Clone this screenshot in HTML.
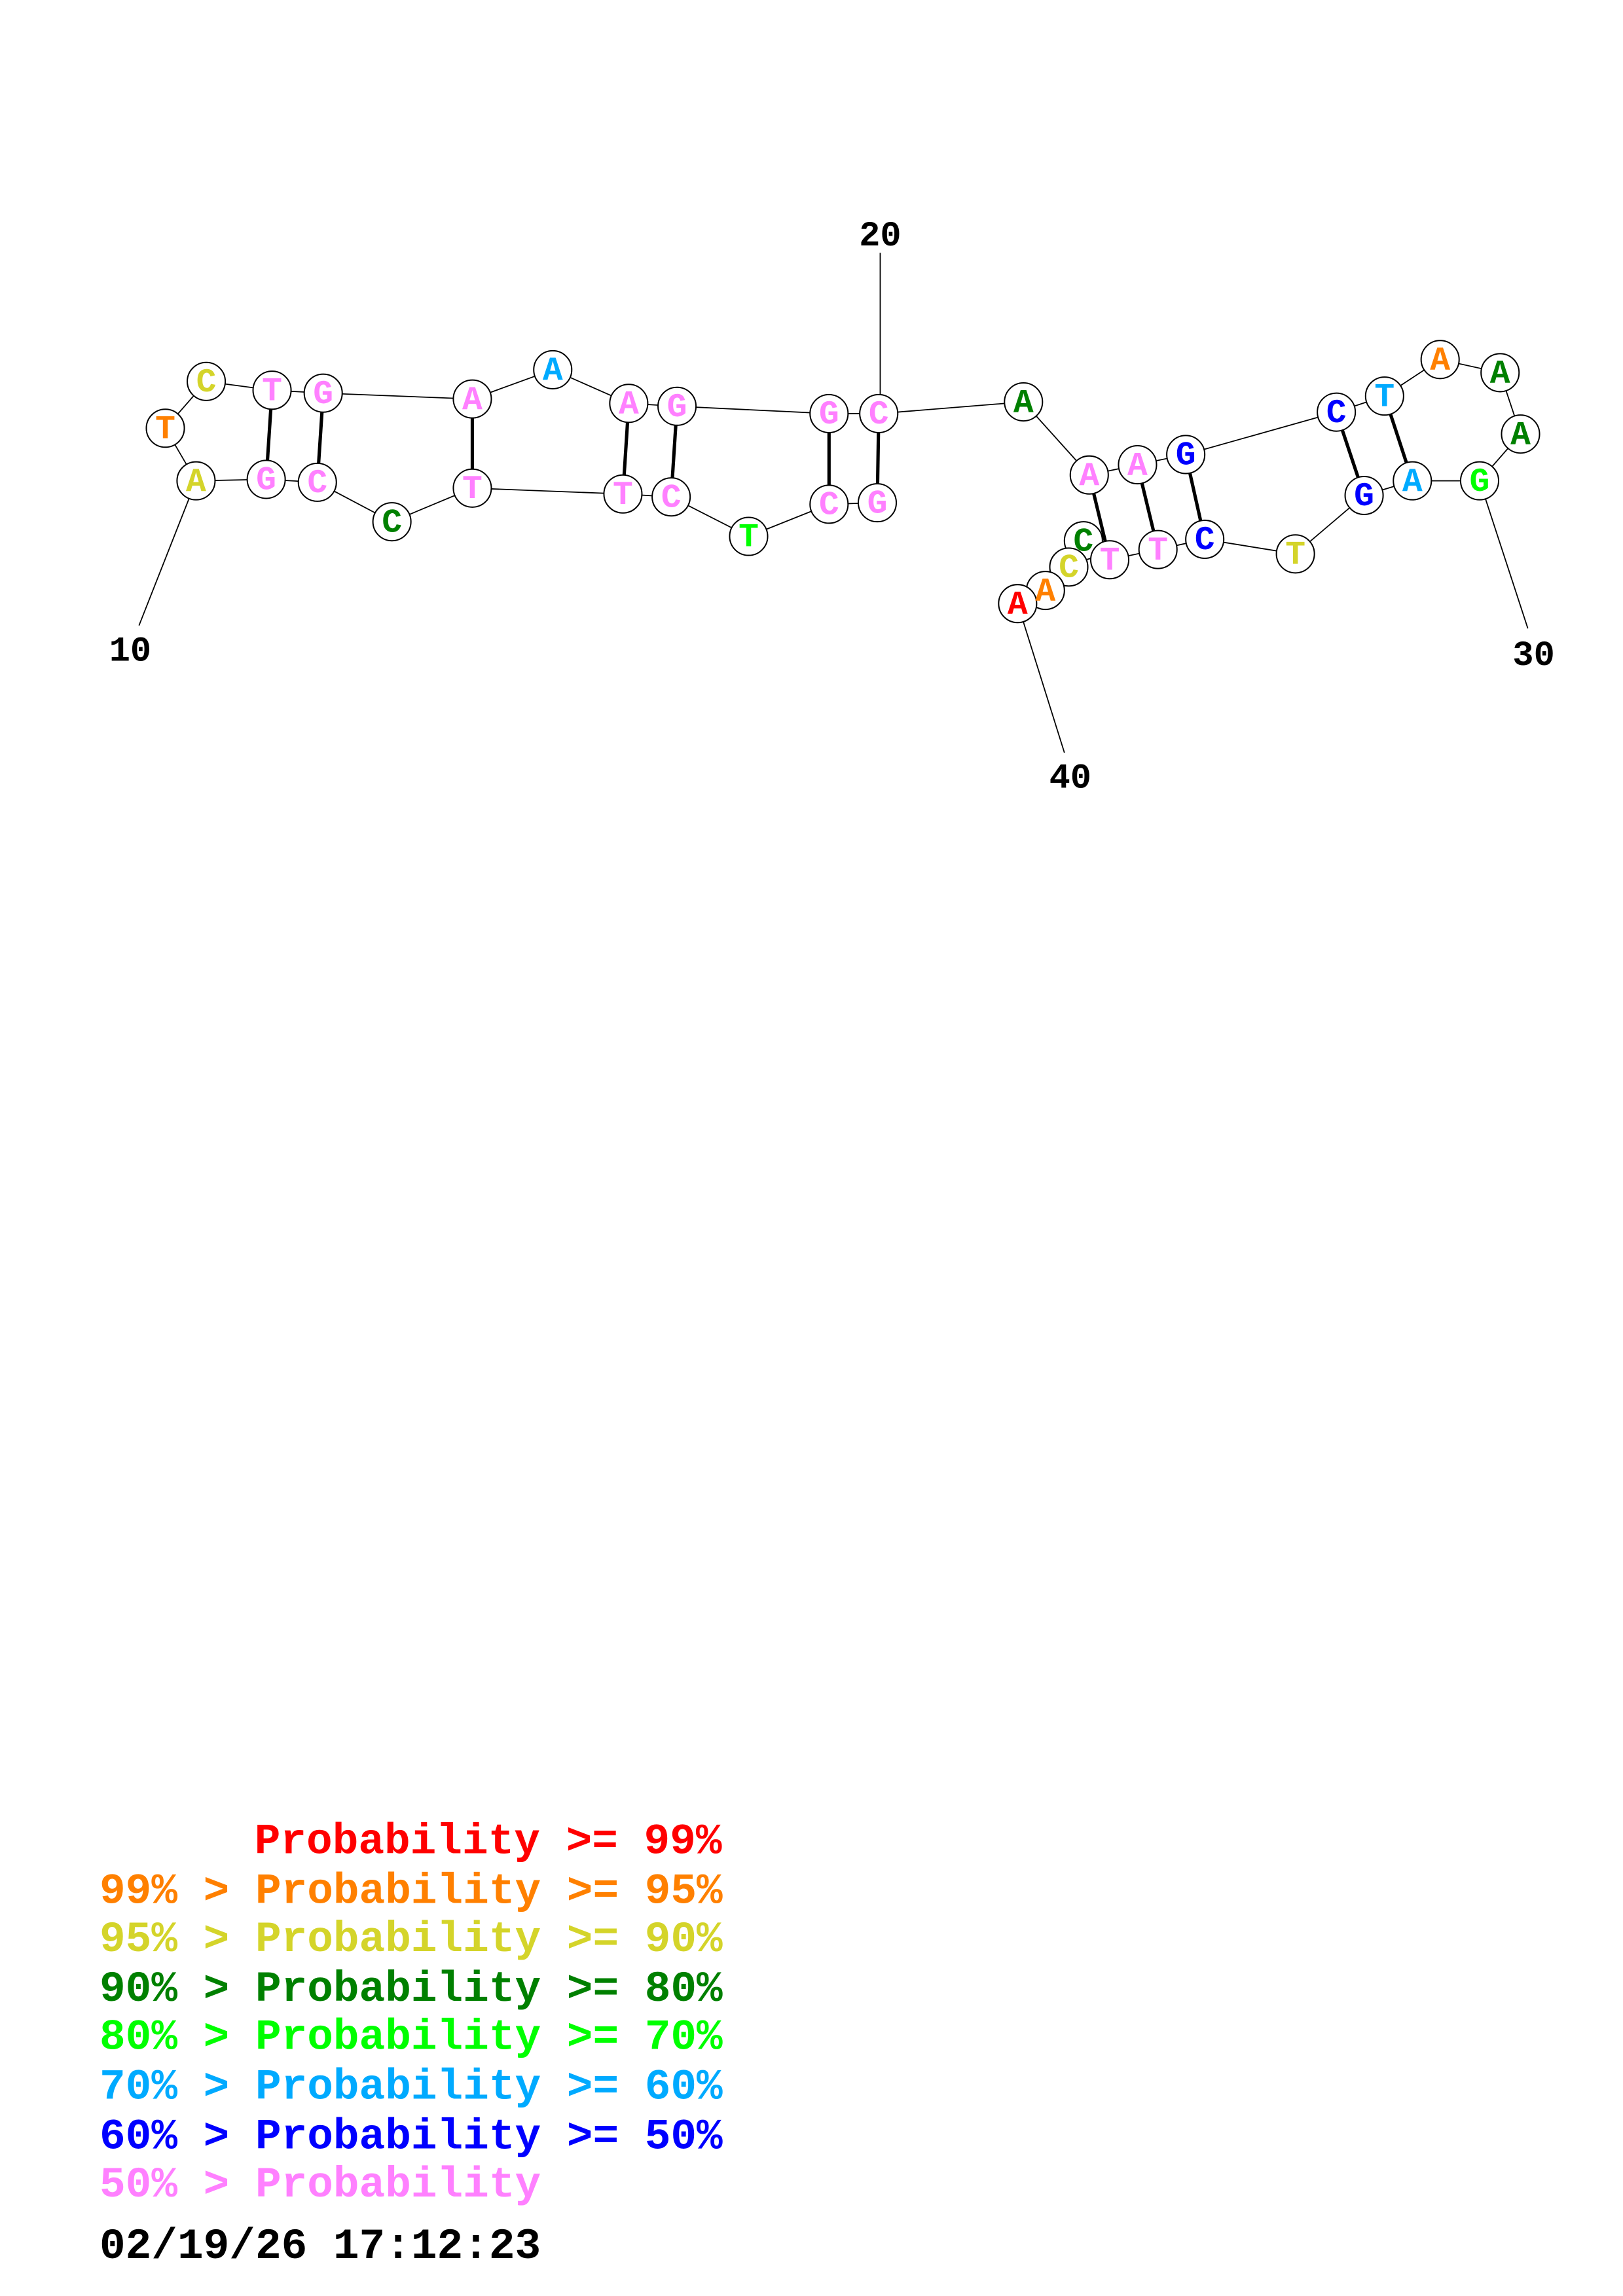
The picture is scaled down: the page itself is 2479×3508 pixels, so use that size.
<!DOCTYPE html>
<html><head><meta charset="utf-8"><style>html,body{margin:0;padding:0;background:#fff}svg{display:block}</style></head>
<body>
<svg xmlns="http://www.w3.org/2000/svg" width="2479" height="3508" viewBox="0 0 1110 1571">
<rect width="1110" height="1571" fill="#fff"/>
<g stroke="#000" stroke-width="0.8" fill="none">
<polyline points="600,344 567,345 512,367 459,340 426,338 323,334 268,357 217,330 182,328 134,329 113,293 141,261 186,267 221,269 323,273 378,253 430,276 463,278 567,283 601,283 700,275 745,325 778,318 811,311 914,282 947,271 985,246 1026,255 1040,297 1012,329 966,329 933,339 886,379 824,369 792,376 759,383 741,370 731,388 715,404 696,413"/>
<line x1="134" y1="329" x2="95" y2="428"/>
<line x1="602" y1="283" x2="602" y2="173"/>
<line x1="1012" y1="329" x2="1045" y2="430"/>
<line x1="696" y1="413" x2="728" y2="515"/>
</g>
<g stroke="#000" stroke-width="2.3">
<line x1="186" y1="267" x2="182" y2="328"/>
<line x1="221" y1="269" x2="217" y2="330"/>
<line x1="323" y1="273" x2="323" y2="334"/>
<line x1="430" y1="276" x2="426" y2="338"/>
<line x1="463" y1="278" x2="459" y2="340"/>
<line x1="567" y1="283" x2="567" y2="345"/>
<line x1="601" y1="283" x2="600" y2="344"/>
<line x1="745" y1="325" x2="759" y2="383"/>
<line x1="778" y1="318" x2="792" y2="376"/>
<line x1="811" y1="311" x2="824" y2="369"/>
<line x1="914" y1="282" x2="933" y2="339"/>
<line x1="947" y1="271" x2="966" y2="329"/>
</g>
<g font-family="'Liberation Mono',monospace" font-weight="bold" font-size="23" text-anchor="middle" dominant-baseline="central" stroke="none">
<g fill="#fff" stroke="#000" stroke-width="0.9">
<circle cx="600" cy="344" r="13"/><circle cx="567" cy="345" r="13"/><circle cx="512" cy="367" r="13"/><circle cx="459" cy="340" r="13"/><circle cx="426" cy="338" r="13"/><circle cx="323" cy="334" r="13"/><circle cx="268" cy="357" r="13"/><circle cx="217" cy="330" r="13"/><circle cx="182" cy="328" r="13"/><circle cx="134" cy="329" r="13"/><circle cx="113" cy="293" r="13"/><circle cx="141" cy="261" r="13"/><circle cx="186" cy="267" r="13"/><circle cx="221" cy="269" r="13"/><circle cx="323" cy="273" r="13"/><circle cx="378" cy="253" r="13"/><circle cx="430" cy="276" r="13"/><circle cx="463" cy="278" r="13"/><circle cx="567" cy="283" r="13"/><circle cx="601" cy="283" r="13"/><circle cx="700" cy="275" r="13"/><circle cx="745" cy="325" r="13"/><circle cx="778" cy="318" r="13"/><circle cx="811" cy="311" r="13"/><circle cx="914" cy="282" r="13"/><circle cx="947" cy="271" r="13"/><circle cx="985" cy="246" r="13"/><circle cx="1026" cy="255" r="13"/><circle cx="1040" cy="297" r="13"/><circle cx="1012" cy="329" r="13"/><circle cx="966" cy="329" r="13"/><circle cx="933" cy="339" r="13"/><circle cx="886" cy="379" r="13"/><circle cx="824" cy="369" r="13"/><circle cx="792" cy="376" r="13"/><circle cx="741" cy="370" r="13"/><circle cx="759" cy="383" r="13"/><circle cx="731" cy="388" r="13"/><circle cx="715" cy="404" r="13"/><circle cx="696" cy="413" r="13"/>
</g>
<text x="600" y="345" fill="#ff80ff">G</text><text x="567" y="346" fill="#ff80ff">C</text><text x="512" y="368" fill="#00ff00">T</text><text x="459" y="341" fill="#ff80ff">C</text><text x="426" y="339" fill="#ff80ff">T</text><text x="323" y="335" fill="#ff80ff">T</text><text x="268" y="358" fill="#008000">C</text><text x="217" y="331" fill="#ff80ff">C</text><text x="182" y="329" fill="#ff80ff">G</text><text x="134" y="330" fill="#d4d42a">A</text><text x="113" y="294" fill="#ff8000">T</text><text x="141" y="262" fill="#d4d42a">C</text><text x="186" y="268" fill="#ff80ff">T</text><text x="221" y="270" fill="#ff80ff">G</text><text x="323" y="274" fill="#ff80ff">A</text><text x="378" y="254" fill="#00aaff">A</text><text x="430" y="277" fill="#ff80ff">A</text><text x="463" y="279" fill="#ff80ff">G</text><text x="567" y="284" fill="#ff80ff">G</text><text x="601" y="284" fill="#ff80ff">C</text><text x="700" y="276" fill="#008000">A</text><text x="745" y="326" fill="#ff80ff">A</text><text x="778" y="319" fill="#ff80ff">A</text><text x="811" y="312" fill="#0000ff">G</text><text x="914" y="283" fill="#0000ff">C</text><text x="947" y="272" fill="#00aaff">T</text><text x="985" y="247" fill="#ff8000">A</text><text x="1026" y="256" fill="#008000">A</text><text x="1040" y="298" fill="#008000">A</text><text x="1012" y="330" fill="#00ff00">G</text><text x="966" y="330" fill="#00aaff">A</text><text x="933" y="340" fill="#0000ff">G</text><text x="886" y="380" fill="#d4d42a">T</text><text x="824" y="370" fill="#0000ff">C</text><text x="792" y="377" fill="#ff80ff">T</text><text x="741" y="371" fill="#008000">C</text><text x="759" y="384" fill="#ff80ff">T</text><text x="731" y="389" fill="#d4d42a">C</text><text x="715" y="405" fill="#ff8000">A</text><text x="696" y="414" fill="#ff0000">A</text>
</g>
<g font-family="'Liberation Mono',monospace" font-weight="bold" font-size="24" text-anchor="middle" fill="#000">
<text x="89" y="452">10</text>
<text x="602" y="168">20</text>
<text x="1049" y="455">30</text>
<text x="732" y="539">40</text>
</g>
<g font-family="'Liberation Mono',monospace" font-weight="bold" font-size="29.6">
<text x="174" y="1268" fill="#ff0000">Probability &gt;= 99%</text>
<text x="68" y="1302" fill="#ff8000">99% &gt; Probability &gt;= 95%</text>
<text x="68" y="1335" fill="#d4d42a">95% &gt; Probability &gt;= 90%</text>
<text x="68" y="1369" fill="#008000">90% &gt; Probability &gt;= 80%</text>
<text x="68" y="1402" fill="#00ff00">80% &gt; Probability &gt;= 70%</text>
<text x="68" y="1436" fill="#00aaff">70% &gt; Probability &gt;= 60%</text>
<text x="68" y="1470" fill="#0000ff">60% &gt; Probability &gt;= 50%</text>
<text x="68" y="1503" fill="#ff80ff">50% &gt; Probability</text>
<text x="68" y="1545" fill="#000">02/19/26 17:12:23</text>
</g>
</svg>
</body></html>
